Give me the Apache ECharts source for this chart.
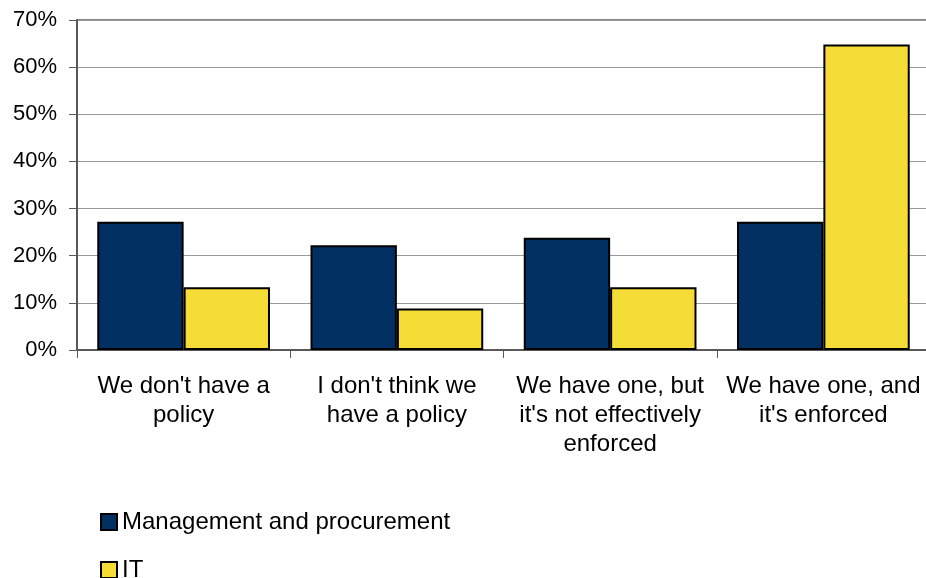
<!DOCTYPE html>
<html>
<head>
<meta charset="utf-8">
<script src="https://cdn.jsdelivr.net/npm/echarts@6/dist/echarts.min.js"></script>
<style>
  html, body { margin: 0; padding: 0; background: #fff; }
  #chart { width: 926px; height: 578px; }
</style>
</head>
<body>
<div id="chart"></div>
<script>
// 分类（标签里的换行照原图）
const categories = [
  "We don't have a\npolicy",
  "I don't think we\nhave a policy",
  "We have one, but\nit's not effectively\nenforced",
  "We have one, and\nit's enforced"
]
const mgmtValues = [27.2, 22.2, 23.8, 27.2]
const itValues = [13.3, 8.8, 13.3, 64.8]
const seriesNames = ["Management and procurement", "IT"]

const myChart = echarts.init(document.getElementById("chart"))

const fontFamily = "Liberation Sans, Arial, sans-serif"

const option = {
  animation: false,
  textStyle: { fontFamily: fontFamily },
  grid: {
    left: 77,
    top: 20,
    width: 853,
    height: 330,
    outerBoundsMode: "none",
    containLabel: false,
    show: true,
    borderColor: "#858585",
    borderWidth: 2
  },
  legend: {
    orient: "vertical",
    left: 100,
    top: 510,
    height: 120,
    padding: 0,
    itemWidth: 16,
    itemHeight: 16,
    itemGap: 24,
    icon: "rect",
    textStyle: { fontSize: 24, color: "#000" },
    data: seriesNames
  },
  xAxis: {
    type: "category",
    data: categories,
    axisLine: { lineStyle: { color: "#595959", width: 2 } },
    axisTick: { show: true, length: 8, lineStyle: { color: "#595959", width: 1 } },
    axisLabel: {
      fontSize: 24,
      color: "#000",
      lineHeight: 29,
      margin: 22,
      interval: 0
    }
  },
  yAxis: {
    type: "value",
    min: 0,
    max: 70,
    interval: 10,
    axisLine: { show: true, lineStyle: { color: "#595959", width: 2 } },
    axisTick: { show: true, length: 8, lineStyle: { color: "#595959", width: 1 } },
    axisLabel: {
      fontSize: 22,
      color: "#000",
      margin: 20,
      formatter: "{value}%"
    },
    splitLine: { lineStyle: { color: "#999", width: 1 } }
  },
  series: [
    {
      name: seriesNames[0],
      type: "bar",
      data: mgmtValues,
      barGap: "0%",
      barCategoryGap: "19%",
      itemStyle: { color: "#023063", borderColor: "#000", borderWidth: 2 }
    },
    {
      name: seriesNames[1],
      type: "bar",
      data: itValues,
      barGap: "0%",
      barCategoryGap: "19%",
      itemStyle: { color: "#f6dc36", borderColor: "#000", borderWidth: 2 }
    }
  ]
}

myChart.setOption(option)
</script>
</body>
</html>
